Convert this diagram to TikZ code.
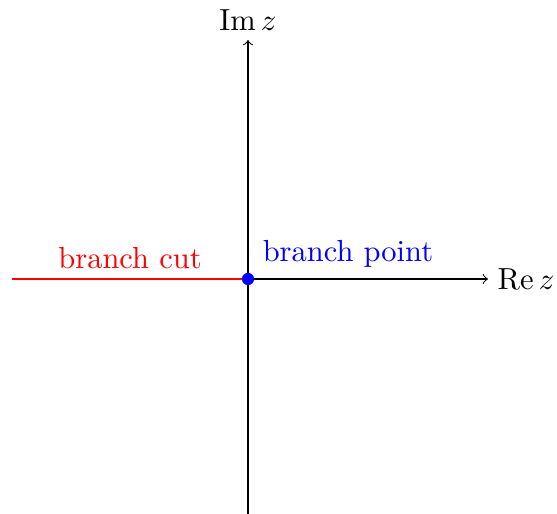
\documentclass[tikz,border=0pt]{standalone}
\begin{document}
\begin{tikzpicture}[x=0.3279pt,y=-0.3279pt,
  axis/.style={->,line width=0.35pt},
  cut/.style={red,line width=0.8pt},
  bpdot/.style={circle,fill=blue,inner sep=0pt,minimum size=4pt}]
\useasboundingbox (0,0) rectangle (557,514);
\coordinate (O) at (248,279);
\coordinate (xl) at (12,279);
\coordinate (xr) at (488,279);
\coordinate (yb) at (248,514);
\coordinate (yt) at (248,40);
\draw[axis] (xl) -- (xr) node[right,inner sep=3pt] (re) {$\mathrm{Re}\,z$};
\draw[axis] (yb) -- (yt) node[above,inner sep=3pt] (im) {$\mathrm{Im}\,z$};
\draw[cut] (xl) -- node[above,inner sep=3pt] (bc) {branch cut} (O);
\node[bpdot] (bp) at (O) {};
\node[blue,above right,inner sep=3pt] (bpl) at (253,277) {branch point};
\end{tikzpicture}
\end{document}
